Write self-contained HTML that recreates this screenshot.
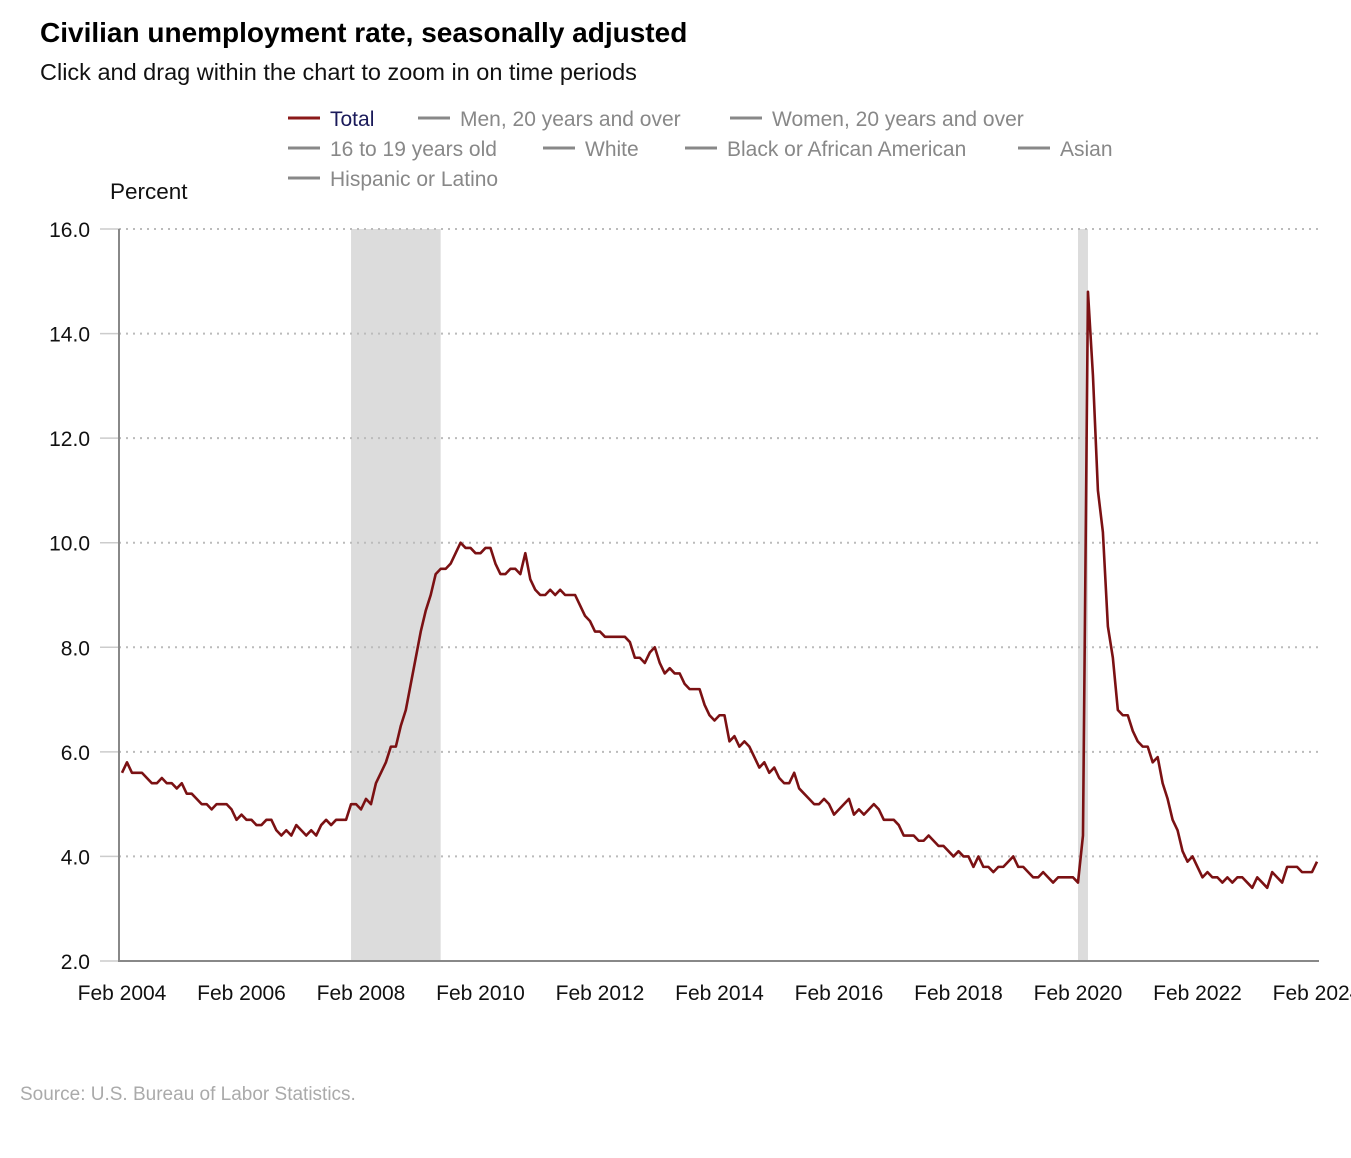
<!DOCTYPE html>
<html><head><meta charset="utf-8"><style>
body{margin:0;background:#fff;width:1351px;height:1158px;overflow:hidden;font-family:"Liberation Sans",sans-serif}
</style></head><body>
<svg id="chart" width="1351" height="1158" xmlns="http://www.w3.org/2000/svg" style="position:absolute;left:0;top:0">
<text x="40" y="42" font-size="28" font-weight="bold" fill="#000">Civilian unemployment rate, seasonally adjusted</text>
<text x="40" y="80" font-size="23.5" fill="#111">Click and drag within the chart to zoom in on time periods</text>
<g id="legend" font-size="21" fill="#888"></g>
<text x="110" y="199" font-size="22.5" fill="#111">Percent</text>
<g id="plot"></g>
<text x="20" y="1100" font-size="19" fill="#aaa">Source: U.S. Bureau of Labor Statistics.</text>
</svg>
<script>
const yTicks=[2,4,6,8,10,12,14,16];
const xTickLabels=["Feb 2004","Feb 2006","Feb 2008","Feb 2010","Feb 2012","Feb 2014","Feb 2016","Feb 2018","Feb 2020","Feb 2022","Feb 2024"];
const recessions=[[46,64],[192,194]]; // months since Feb 2004
const legendItems=["Total","Men, 20 years and over","Women, 20 years and over","16 to 19 years old","White","Black or African American","Asian","Hispanic or Latino"];
const totalRate=[5.6,5.8,5.6,5.6,5.6,5.5,5.4,5.4,5.5,5.4,5.4,
5.3,5.4,5.2,5.2,5.1,5.0,5.0,4.9,5.0,5.0,5.0,4.9,
4.7,4.8,4.7,4.7,4.6,4.6,4.7,4.7,4.5,4.4,4.5,4.4,
4.6,4.5,4.4,4.5,4.4,4.6,4.7,4.6,4.7,4.7,4.7,5.0,
5.0,4.9,5.1,5.0,5.4,5.6,5.8,6.1,6.1,6.5,6.8,7.3,
7.8,8.3,8.7,9.0,9.4,9.5,9.5,9.6,9.8,10.0,9.9,9.9,
9.8,9.8,9.9,9.9,9.6,9.4,9.4,9.5,9.5,9.4,9.8,9.3,
9.1,9.0,9.0,9.1,9.0,9.1,9.0,9.0,9.0,8.8,8.6,8.5,
8.3,8.3,8.2,8.2,8.2,8.2,8.2,8.1,7.8,7.8,7.7,7.9,
8.0,7.7,7.5,7.6,7.5,7.5,7.3,7.2,7.2,7.2,6.9,6.7,
6.6,6.7,6.7,6.2,6.3,6.1,6.2,6.1,5.9,5.7,5.8,5.6,
5.7,5.5,5.4,5.4,5.6,5.3,5.2,5.1,5.0,5.0,5.1,5.0,
4.8,4.9,5.0,5.1,4.8,4.9,4.8,4.9,5.0,4.9,4.7,4.7,
4.7,4.6,4.4,4.4,4.4,4.3,4.3,4.4,4.3,4.2,4.2,4.1,
4.0,4.1,4.0,4.0,3.8,4.0,3.8,3.8,3.7,3.8,3.8,3.9,
4.0,3.8,3.8,3.7,3.6,3.6,3.7,3.6,3.5,3.6,3.6,3.6,
3.6,3.5,4.4,14.8,13.2,11.0,10.2,8.4,7.8,6.8,6.7,6.7,
6.4,6.2,6.1,6.1,5.8,5.9,5.4,5.1,4.7,4.5,4.1,3.9,
4.0,3.8,3.6,3.7,3.6,3.6,3.5,3.6,3.5,3.6,3.6,3.5,
3.4,3.6,3.5,3.4,3.7,3.6,3.5,3.8,3.8,3.8,3.7,3.7,
3.7,3.9];
const NS="http://www.w3.org/2000/svg";
const L=119,R=1319,T=229,B=961;
const y=v=>B-(v-2)/(16-2)*(B-T);
const x=m=>122+m*(1317-122)/240;
function mk(tag,attrs,parent){const e=document.createElementNS(NS,tag);for(const k in attrs)e.setAttribute(k,attrs[k]);parent.appendChild(e);return e;}
const plot=document.getElementById('plot');
recessions.forEach(r=>{
  const e=mk('rect',{x:x(r[0]),y:T,width:x(r[1])-x(r[0]),height:B-T,fill:'#dcdcdc'},plot);
  
  
});
yTicks.forEach(v=>{
  if(v>2){const g=mk('line',{x1:L,x2:R,y1:y(v),y2:y(v),stroke:'#bbb','stroke-width':2,'stroke-dasharray':'2,5'},plot);
  
  }
  mk('line',{x1:100,x2:L,y1:y(v),y2:y(v),stroke:'#ccc','stroke-width':1.5},plot);
  const t=mk('text',{x:90,y:y(v)+8,'text-anchor':'end','font-size':21,fill:'#111'},plot);
  t.textContent=v.toFixed(1);
  
  
});
xTickLabels.forEach((s,i)=>{
  const t=mk('text',{x:x(i*24),y:1000,'text-anchor':'middle','font-size':21,fill:'#111'},plot);
  t.textContent=s;
  
  
});
const ax=mk('path',{d:`M${L},${T} V${B} H${R}`,fill:'none',stroke:'#888','stroke-width':2},plot);


const line=mk('polyline',{points:totalRate.map((v,i)=>x(i)+','+y(v)).join(' '),fill:'none',stroke:'#7b1113','stroke-width':2.6,'stroke-linejoin':'round'},plot);


const leg=document.getElementById('legend');
const pos=[[288,126],[418,126],[730,126],[288,156],[543,156],[685,156],[1018,156],[288,186]];
legendItems.forEach((s,i)=>{
  const g=mk('g',{},leg);
  
  
  const [lx,ly]=pos[i];
  mk('line',{x1:lx,x2:lx+32,y1:ly-8,y2:ly-8,stroke:i==0?'#8b1a1a':'#888','stroke-width':3},g);
  const t=mk('text',{x:lx+42,y:ly,fill:i==0?'#1a1a5a':'#888'},g);
  t.textContent=s;
});
</script>
</body></html>
